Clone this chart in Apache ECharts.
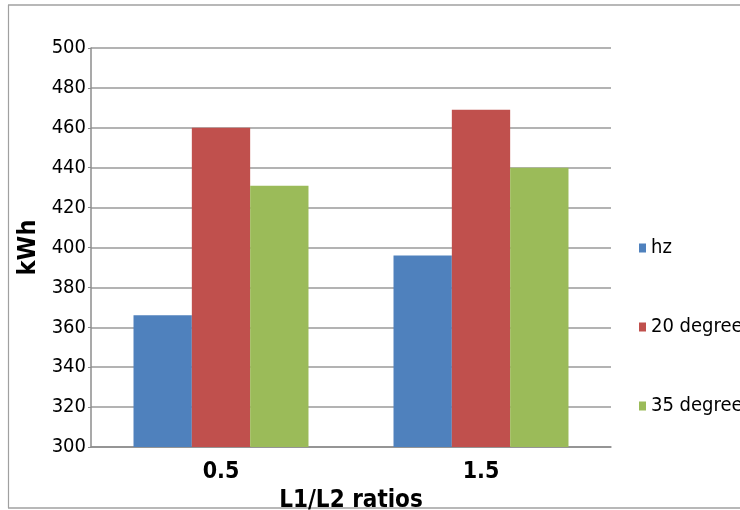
<!DOCTYPE html>
<html>
<head>
<meta charset="utf-8">
<style>
  html, body { margin: 0; padding: 0; background: #ffffff; }
  #chart { width: 740px; height: 510px; }
</style>
<script src="https://cdn.jsdelivr.net/npm/echarts@6/dist/echarts.min.js"></script>
</head>
<body>
<div id="chart"></div>
<script>
// Energy use per L1/L2 ratio for each orientation
const categories = ['0.5', '1.5'];
const seriesNames = ['hz', '20 degree', '35 degree'];
const hzValues = [366, 396];
const deg20Values = [460, 469];
const deg35Values = [431, 440];
const yTicks = { min: 300, max: 500, interval: 20 };

const colors = ['#4F81BD', '#C0504D', '#9BBB59'];
const font = '"DejaVu Sans Condensed", "DejaVu Sans", sans-serif';

const chart = echarts.init(document.getElementById('chart'), null, { renderer: 'canvas' });

const seriesData = [hzValues, deg20Values, deg35Values];

chart.setOption({
  animation: false,
  backgroundColor: '#ffffff',
  color: colors,
  grid: { left: 91, right: 129, top: 48, bottom: 63, containLabel: false, outerBoundsMode: 'none' },
  legend: {
    orient: 'vertical',
    left: 634,
    top: 232,
    itemWidth: 7,
    itemHeight: 9,
    itemGap: 57,
    icon: 'rect',
    data: seriesNames,
    textStyle: { fontFamily: font, fontSize: 20, lineHeight: 22, color: '#000000', padding: [0, 0, 0, 0] }
  },
  xAxis: {
    type: 'category',
    data: categories,
    name: 'L1/L2 ratios',
    nameLocation: 'middle',
    nameGap: 34,
    nameTextStyle: { fontFamily: font, fontSize: 24, fontWeight: 'bold', color: '#000000' },
    axisLine: { lineStyle: { color: '#8c8c8c', width: 1.5 } },
    axisTick: { show: false },
    axisLabel: { fontFamily: font, fontSize: 23, fontWeight: 'bold', color: '#000000', margin: 14 }
  },
  yAxis: {
    type: 'value',
    min: yTicks.min,
    max: yTicks.max,
    interval: yTicks.interval,
    name: 'kWh',
    nameLocation: 'middle',
    nameRotate: 90,
    nameGap: 47,
    nameTextStyle: { fontFamily: font, fontSize: 25, fontWeight: 'bold', color: '#000000' },
    axisLine: { show: true, lineStyle: { color: '#8c8c8c', width: 1.5 } },
    axisTick: { show: true, length: 3, lineStyle: { color: '#8c8c8c' } },
    axisLabel: { fontFamily: font, fontSize: 20, color: '#000000', margin: 5 },
    splitLine: { lineStyle: { color: '#9a9a9a', width: 1.5 } }
  },
  series: seriesNames.map((name, i) => ({
    name: name,
    type: 'bar',
    data: seriesData[i],
    barGap: '0%',
    barCategoryGap: '32.7%',
    itemStyle: { color: colors[i] }
  })),
  graphic: [
    { type: 'line', shape: { x1: 8, y1: 5, x2: 740, y2: 5 }, style: { stroke: '#a0a0a0', lineWidth: 1.5 } },
    { type: 'line', shape: { x1: 8.5, y1: 5, x2: 8.5, y2: 508 }, style: { stroke: '#a0a0a0', lineWidth: 1.2 } },
    { type: 'line', shape: { x1: 8, y1: 508, x2: 740, y2: 508 }, style: { stroke: '#a0a0a0', lineWidth: 1.5 } }
  ]
});
</script>
</body>
</html>
